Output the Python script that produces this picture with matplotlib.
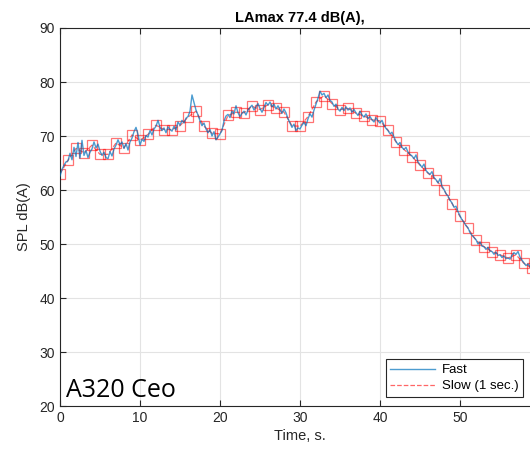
import numpy as np
import matplotlib
matplotlib.use("Agg")
import matplotlib.pyplot as plt

# Slow (1 sec.) levels, one per second from t=0
slow_t = list(range(0, 60))
slow_db = [63.0, 65.5, 67.7, 66.9, 68.3, 66.6, 66.6, 68.7, 67.8, 70.2,
           69.2, 70.3, 72.0, 71.2, 71.2, 71.9, 73.5, 74.6, 71.8, 70.5,
           70.4, 73.8, 74.4, 74.3, 75.5, 74.9, 75.8, 75.2, 74.4, 71.9,
           71.8, 73.6, 76.3, 77.5, 76.0, 74.9, 75.1, 74.2, 73.7, 73.0,
           72.8, 71.1, 68.9, 67.5, 66.2, 64.6, 63.1, 61.9, 60.0, 57.5,
           55.1, 52.9, 50.7, 49.5, 48.6, 48.0, 47.4, 48.0, 46.4, 45.5]

# Fast levels, every 0.25 s
fast_step = 0.25
fast_db = [
    62.6, 63.8, 64.6, 65.2,  65.4, 66.8, 65.6, 67.9,  66.2, 68.8, 65.9, 69.2,
    66.4, 67.3, 66.0, 67.0,  67.6, 68.9, 67.8, 68.5,  67.2, 66.4, 67.0, 66.0,
    65.8, 67.1, 66.3, 67.6,  68.3, 69.3, 68.4, 68.9,  67.7, 68.6, 67.4, 68.9,
    69.6, 70.8, 71.6, 70.3,  68.3, 69.4, 69.0, 70.1,  69.8, 71.0, 70.2, 71.3,
    71.8, 72.9, 71.6, 71.0,  71.5, 70.6, 71.7, 71.2,  70.9, 71.8, 71.1, 72.6,
    72.0, 72.9, 72.4, 73.3,  73.6, 74.6, 77.6, 76.2,  74.8, 73.9, 72.8, 71.9,
    72.4, 71.3, 70.6, 71.2,  70.0, 70.8, 69.3, 69.8,  70.4, 71.0, 72.8, 73.7,
    74.0, 73.4, 74.6, 74.1,  75.6, 74.3, 73.6, 74.2,  74.6, 73.9, 74.8, 75.3,
    75.7, 74.8, 75.4, 76.0,  75.1, 74.4, 75.3, 76.2,  75.7, 76.3, 75.4, 75.9,
    75.0, 75.6, 74.8, 74.2,  75.0, 74.3, 73.2, 72.4,  71.6, 72.2, 71.0, 71.5,
    71.3, 72.0, 72.5, 71.9,  73.2, 74.1, 73.5, 74.8,  75.9, 77.0, 78.3, 77.6,
    77.9, 77.1, 77.6, 76.6,  76.3, 75.5, 75.9, 75.0,  74.6, 75.3, 74.7, 75.4,
    74.8, 75.2, 74.4, 74.9,  74.3, 73.8, 74.6, 73.9,  73.5, 74.1, 73.2, 73.6,
    73.0, 72.6, 73.4, 72.8,  72.4, 72.9, 72.0, 71.4,  71.0, 70.4, 70.7, 69.8,
    69.0, 68.4, 68.8, 67.9,  67.5, 67.9, 67.0, 66.6,  66.3, 65.8, 66.5, 65.2,
    64.7, 64.2, 64.8, 63.6,  63.2, 62.9, 63.4, 62.3,  61.9, 61.3, 62.1, 60.7,
    60.1, 59.3, 58.9, 58.1,  57.6, 56.8, 57.0, 56.0,  55.2, 54.5, 54.0, 53.4,
    53.0, 52.1, 51.6, 51.2,  50.8, 50.0, 50.4, 49.6,  49.5, 49.0, 49.4, 48.7,
    48.6, 48.1, 48.5, 47.9,  48.0, 47.5, 47.8, 47.3,  47.4, 47.2, 47.9, 48.4,
    48.1, 48.6, 47.6, 47.0,  46.5, 46.0, 46.3, 45.8,  45.5]
fast_t = np.arange(len(fast_db)) * fast_step

plt.rcParams['font.family'] = ['Liberation Sans', 'DejaVu Sans']

fig = plt.figure(figsize=(5.3, 4.54), dpi=100)
ax = fig.add_axes([60 / 530, 48 / 454, 480 / 530, 378 / 454])

ax.plot(fast_t, fast_db, color='#0072BD', lw=1.0, alpha=0.7, label='Fast', zorder=3)
ax.plot(slow_t, slow_db, color='red', lw=0.9, ls='--', alpha=0.6,
        label='Slow (1 sec.)', zorder=2)
ax.plot(slow_t, slow_db, ls='none', marker='s', ms=6.5, mfc='none',
        mec='red', mew=0.9, alpha=0.55, zorder=2)

ax.set_xlim(0, 60)
ax.set_ylim(20, 90)
ax.set_xticks(range(0, 60, 10))
ax.set_yticks(range(20, 91, 10))
ax.grid(True, color='#e3e3e3', lw=0.8)
ax.set_axisbelow(True)
ax.tick_params(direction='in', length=4, colors='#262626', labelsize=10,
               top=True, right=True)
for s in ax.spines.values():
    s.set_color('#262626')
    s.set_linewidth(0.8)

ax.set_title('LAmax 77.4 dB(A),', fontsize=10.5, fontweight='bold', pad=4)
ax.set_xlabel('Time, s.', fontsize=10.5, color='#262626', labelpad=3)
ax.set_ylabel('SPL dB(A)', fontsize=10.5, color='#262626', labelpad=6)

ax.text(0.8, 20.6, 'A320 Ceo', fontsize=18, family='Open Sans',
        ha='left', va='bottom')

leg = ax.legend(loc='lower right', bbox_to_anchor=(523 / 530, 57 / 454),
                bbox_transform=fig.transFigure, borderaxespad=0,
                fontsize=9.5, fancybox=False, handlelength=3.4,
                framealpha=1, edgecolor='#262626', borderpad=0.35,
                labelspacing=0.3, handletextpad=0.5)
leg.get_frame().set_linewidth(0.8)

fig.savefig('out.png', dpi=100)
